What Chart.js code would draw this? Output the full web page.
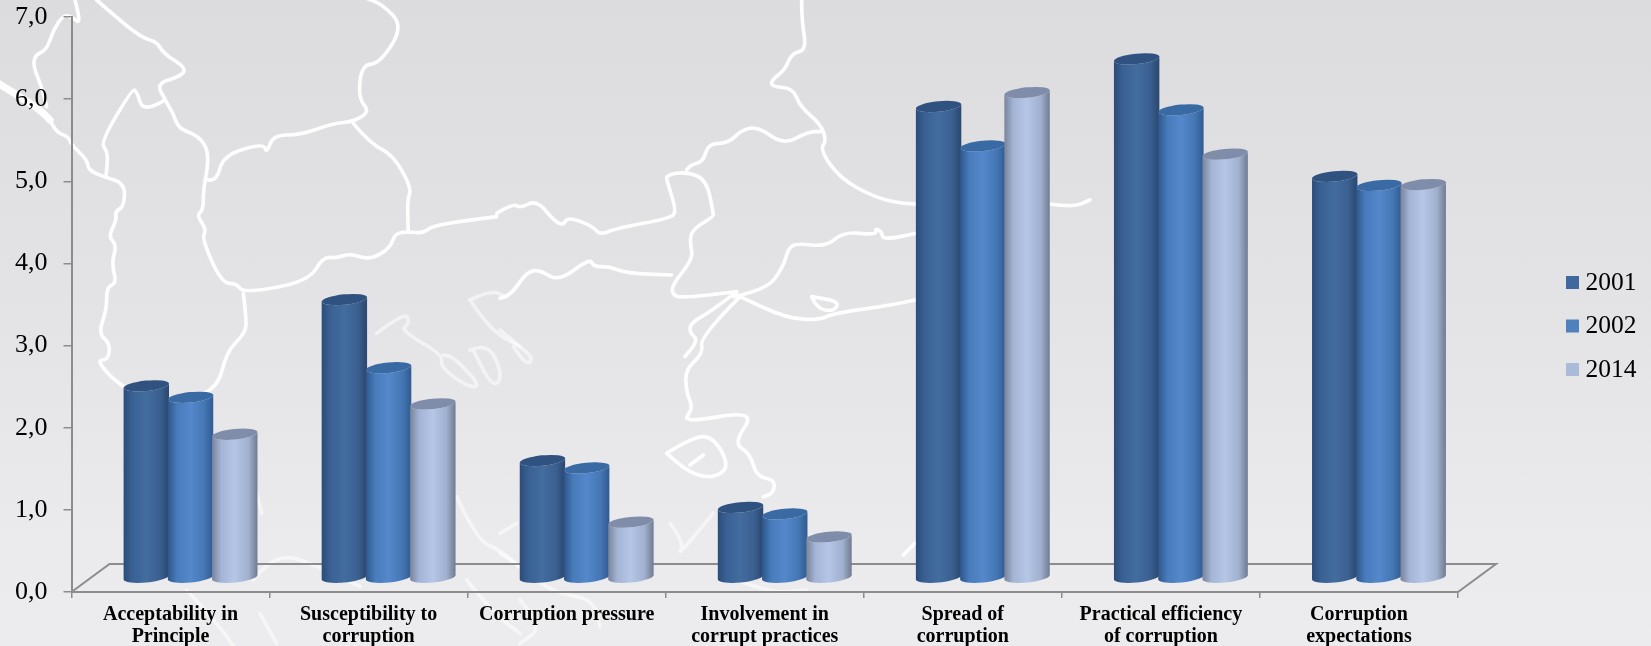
<!DOCTYPE html>
<html>
<head>
<meta charset="utf-8">
<title>Corruption indexes</title>
<script src="https://cdn.jsdelivr.net/npm/chart.js@4/dist/chart.umd.min.js"></script>
<style>
    html, body { margin: 0; padding: 0; }
    #stage {
        position: relative;
        width: 1651px;
        height: 646px;
        overflow: hidden;
        background: linear-gradient(to bottom, #dcdcdf 0%, #e4e4e7 50%, #ebebed 85%, #ecECEE 100%);
    }
    #stage svg, #stage canvas { position: absolute; left: 0; top: 0; }
    .map { fill: none; stroke: #fff; stroke-width: 11; stroke-linejoin: round; stroke-linecap: round; stroke-opacity: 0.95; }
    .faint { opacity: 0.55; }
</style>
</head>
<body>
<div id="stage">
    <!-- map outline behind the plot, traced at 3x and scaled down -->
    <svg id="map" width="1651" height="646">
        <g transform="scale(0.3333)" class="map">
            <polyline stroke-width="22" points="-5,250 60,290 120,330 150,360"/>
            <polyline points="150,360 165,395 205,410 215,435 262,480 265,510 310,530 375,550 372,620 345,635 350,660 325,710 350,735 335,790 350,850 320,860 320,930 295,1000 330,1030 325,1080 290,1080 340,1140 420,1190"/>
            <polyline points="225,0 245,75 215,50 190,45 160,90 140,150 105,165 100,200 125,260 140,320"/>
            <polyline points="290,0 370,70 430,115 470,125 490,160 560,205 540,230 470,250 495,300 520,340 535,385 590,405 620,440 625,490 610,570 610,630 590,645 620,690 605,715 665,850 710,850 730,880 925,845 970,770 1010,775 1050,760 1110,780 1170,745 1185,700 1225,695 1270,700 1300,675 1490,650"/>
            <polyline points="495,300 430,340 410,270 395,270 300,430 325,455 318,530"/>
            <polyline points="625,540 650,545 670,465 790,430 800,460 820,405 900,405 1000,370 1060,365 1110,335 1075,295 1085,195 1140,190 1210,80 1150,15 1100,-5"/>
            <polyline points="1060,370 1110,430 1180,465 1235,565 1222,600 1225,695"/>
            <polyline points="730,880 740,960 735,1000 680,1055 655,1160 570,1200"/>
        </g>
        <g transform="translate(500,0) scale(0.3333)" class="map">
            <polyline points="-10,640 40,610 60,625 110,600 165,665 190,675 205,650 280,680 300,705 350,685 510,655 530,635 500,540 500,525 560,515 620,540 640,640 640,650 575,690 570,730 580,775 520,850 515,880 540,895 710,875"/>
            <polyline points="560,510 570,495 610,485 625,430 685,430 725,390 775,380 850,435 925,395 965,395"/>
            <polyline points="905,0 905,60 920,150 875,160 855,210 815,240 815,260 880,265 900,320 960,370 980,420 960,450 1020,535 1120,590 1200,610 1250,612"/>
            <polyline points="1650,612 1720,622 1770,600"/>
            <polyline points="0,895 30,890 80,815 120,810 175,845 270,775 280,800 330,800 380,820 515,825"/>
            <polyline points="700,890 800,870 850,800 865,745 890,730 980,740 1030,695 1130,705 1125,685 1145,695 1150,720 1250,700"/>
        </g>
        <g transform="translate(500,280) scale(0.3333)" class="map">
            <polyline points="710,35 640,90 570,130 570,160 595,180 555,230"/>
            <polyline points="720,50 600,170 610,220 555,270 560,340 580,385 545,430 770,390 700,490 750,520 770,590 825,600 820,640 790,650"/>
            <polyline points="1245,60 1180,75 1000,100 960,120 860,115 720,50"/>
            <polyline points="935,50 950,85 1000,95 1020,65 935,50"/>
            <polyline points="500,520 580,470 640,470 690,560 640,595 570,580 500,520"/>
            <polyline points="570,555 610,525"/>
            <polyline points="1210,825 1245,790"/>
        </g>
        <g transform="translate(500,280) scale(0.3333)" class="map faint">
            <polyline points="0,150 60,200 100,235 80,255 40,200"/>
            <polyline points="510,730 555,790 530,830 640,700"/>
            <polyline points="0,820 60,860 120,910 180,940 280,960 300,1040"/>
            <polyline points="50,730 0,760"/>
            <polyline points="60,960 130,1040 60,1090"/>
            <polyline points="660,880 800,940 920,930"/>
        </g>
        <g transform="translate(0,280) scale(0.3333)" class="map faint">
            <polyline points="1130,160 1215,95 1230,130 1200,150 1330,225 1320,260 1400,320 1445,320 1360,230 1330,225"/>
            <polyline points="1410,210 1460,190 1500,260 1500,310 1470,310 1420,210"/>
            <polyline points="1410,60 1470,30 1520,50"/>
            <polyline points="1410,60 1470,150 1560,200"/>
            <polyline points="1370,650 1430,780 1500,810 1560,860"/>
            <polyline points="770,640 785,700"/>
            <polyline points="760,900 825,815 960,860 1080,920"/>
            <polyline points="780,1000 830,1090"/>
            <polyline points="560,930 660,1040 700,1098"/>
            <polyline points="1400,900 1480,1000 1560,1060"/>
        </g>
    </svg>
    <canvas id="chart" width="1651" height="646"></canvas>
</div>

<script>
const categories = [
    ['Acceptability in', 'Principle'],
    ['Susceptibility to', 'corruption'],
    'Corruption pressure',
    ['Involvement in', 'corrupt practices'],
    ['Spread of', 'corruption'],
    ['Practical efficiency', 'of corruption'],
    ['Corruption', 'expectations']
];
const values2001 = [2.34, 3.39, 1.43, 0.86, 5.74, 6.32, 4.89];
const values2002 = [2.20, 2.56, 1.34, 0.78, 5.26, 5.70, 4.78];
const values2014 = [1.75, 2.12, 0.68, 0.50, 5.91, 5.16, 4.79];
const yearLabels = ['2001', '2002', '2014'];
const yTickLabels = ['0,0', '1,0', '2,0', '3,0', '4,0', '5,0', '6,0', '7,0'];

const swatchColors = ['#3f689c', '#4f81bd', '#aabbd9'];
// edge, shoulder, centre, far shoulder, far edge, cap
const cylinderShades = [
    ['#2b4c79', '#3a6194', '#436c9f', '#3a6090', '#2a466d', '#2f5280'],
    ['#2e568a', '#477bbb', '#5488cb', '#4577b5', '#305a90', '#3a6aa3'],
    ['#79839b', '#a3b4d4', '#b5c6e6', '#a0b0ce', '#6f7a90', '#7f8daa']
];

const axisGray = '#8c8c8c';
const serif = '"Liberation Serif", serif';

// depth of the floor, and how far a bar stands back from the front edge
const floorDepthX = 38;
const floorDepthY = 28;
const barShiftX = 20;
const barShiftY = 14;

// round off the traced outlines: each corner becomes a curve through the segment midpoints
document.querySelectorAll('#map polyline').forEach(line => {
    const nums = line.getAttribute('points').trim().split(/[\s,]+/).map(Number);
    const pts = [];
    for (let i = 0; i < nums.length; i += 2) pts.push([nums[i], nums[i + 1]]);
    let d = 'M' + pts[0].join(' ');
    for (let i = 1; i < pts.length - 1; i++) {
        const mx = (pts[i][0] + pts[i + 1][0]) / 2;
        const my = (pts[i][1] + pts[i + 1][1]) / 2;
        d += ' Q' + pts[i].join(' ') + ' ' + mx + ' ' + my;
    }
    d += ' L' + pts[pts.length - 1].join(' ');
    const path = document.createElementNS('http://www.w3.org/2000/svg', 'path');
    path.setAttribute('d', d);
    if (line.hasAttribute('stroke-width')) path.setAttribute('stroke-width', line.getAttribute('stroke-width'));
    line.replaceWith(path);
});

function drawFloor(chart) {
    const { ctx, chartArea: a } = chart;
    ctx.save();
    ctx.strokeStyle = axisGray;
    ctx.lineWidth = 2;
    ctx.beginPath();
    ctx.moveTo(a.left, a.bottom);
    ctx.lineTo(a.left + floorDepthX, a.bottom - floorDepthY);
    ctx.lineTo(a.right + floorDepthX, a.bottom - floorDepthY);
    ctx.lineTo(a.right, a.bottom);
    ctx.stroke();
    ctx.restore();
}

function drawCylinder(ctx, bar, shades) {
    const cx = bar.x + barShiftX;
    const rx = bar.width / 2 + 0.7;
    const ry = 5.2;
    const tilt = -0.1;
    const top = bar.y - barShiftY;
    const bottom = bar.base - barShiftY;

    const body = ctx.createLinearGradient(cx - rx, 0, cx + rx, 0);
    body.addColorStop(0, shades[0]);
    body.addColorStop(0.2, shades[1]);
    body.addColorStop(0.5, shades[2]);
    body.addColorStop(0.8, shades[3]);
    body.addColorStop(1, shades[4]);

    ctx.beginPath();
    ctx.ellipse(cx, bottom, rx, ry, tilt, 0, Math.PI);
    ctx.ellipse(cx, top, rx, ry, tilt, Math.PI, 0, true);
    ctx.closePath();
    ctx.fillStyle = body;
    ctx.fill();

    ctx.beginPath();
    ctx.ellipse(cx, top, rx, ry, tilt, 0, Math.PI * 2);
    ctx.fillStyle = shades[5];
    ctx.fill();
}

const cylinders = {
    id: 'cylinders',
    beforeDatasetsDraw(chart) {
        drawFloor(chart);
        chart.data.datasets.forEach((ds, i) => {
            chart.getDatasetMeta(i).data.forEach(el => {
                const bar = el.getProps(['x', 'y', 'base', 'width'], true);
                drawCylinder(chart.ctx, bar, cylinderShades[i]);
            });
        });
    },
    // the bars are painted above, so skip the flat rectangles
    beforeDatasetDraw() {
        return false;
    }
};

const sideLegend = {
    id: 'sideLegend',
    afterDraw(chart) {
        const ctx = chart.ctx;
        ctx.save();
        ctx.font = '25.5px ' + serif;
        ctx.textBaseline = 'middle';
        chart.data.datasets.forEach((ds, i) => {
            const y = 276 + i * 43.5;
            ctx.fillStyle = ds.backgroundColor;
            ctx.fillRect(1566, y, 13, 13);
            ctx.fillStyle = '#000';
            ctx.fillText(ds.label, 1585.5, y + 7);
        });
        ctx.restore();
    }
};

const barDefaults = { categoryPercentage: 0.67, barPercentage: 1 };

new Chart(document.getElementById('chart'), {
    type: 'bar',
    data: {
        labels: categories,
        datasets: [
            { label: yearLabels[0], data: values2001, backgroundColor: swatchColors[0], ...barDefaults },
            { label: yearLabels[1], data: values2002, backgroundColor: swatchColors[1], ...barDefaults },
            { label: yearLabels[2], data: values2014, backgroundColor: swatchColors[2], ...barDefaults }
        ]
    },
    plugins: [cylinders, sideLegend],
    options: {
        responsive: false,
        animation: false,
        layout: { autoPadding: false, padding: { top: 17, right: 193, bottom: 0, left: 0 } },
        plugins: { legend: { display: false }, tooltip: { enabled: false } },
        scales: {
            x: {
                afterFit(scale) { scale.height = 54; },
                border: { color: axisGray, width: 2 },
                grid: { drawOnChartArea: false, tickLength: 6, color: axisGray, lineWidth: 1.5 },
                ticks: {
                    color: '#000',
                    padding: 6,
                    maxRotation: 0,
                    autoSkip: false,
                    font: { family: serif, size: 20, weight: 'bold', lineHeight: 1.1 }
                }
            },
            y: {
                min: 0,
                max: 7,
                // keep the top of the axis where it is set, not pushed down by the label height
                afterFit(scale) {
                    scale.width = 71.5;
                    scale.paddingTop = 0;
                    scale.paddingBottom = 0;
                },
                border: { color: axisGray, width: 2 },
                grid: { drawOnChartArea: false, tickLength: 8, color: axisGray, lineWidth: 1.5 },
                ticks: {
                    stepSize: 1,
                    color: '#000',
                    padding: 16,
                    font: { family: serif, size: 26 },
                    callback: (value, i) => yTickLabels[i]
                }
            }
        }
    }
});
</script>
</body>
</html>
